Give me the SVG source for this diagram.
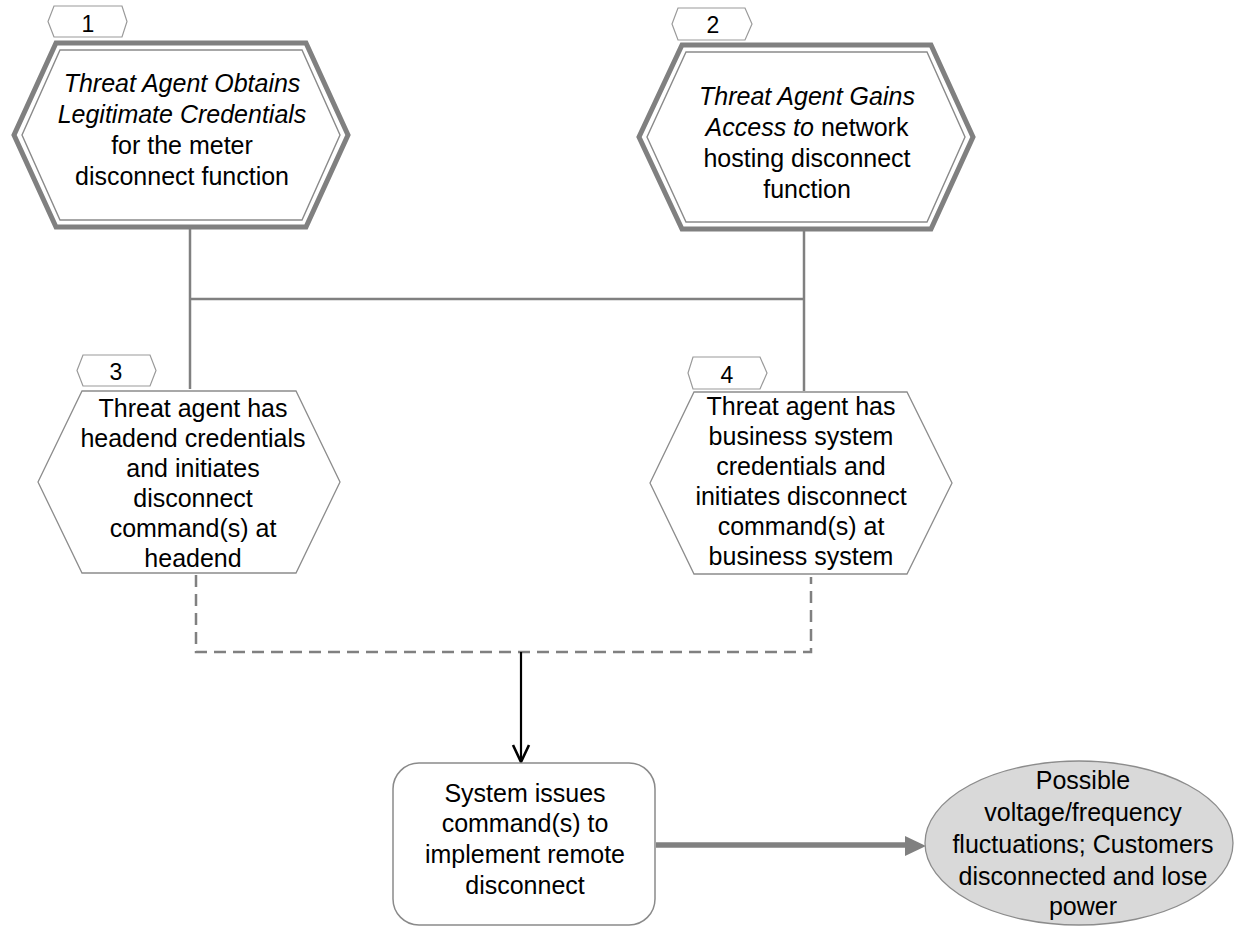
<svg xmlns="http://www.w3.org/2000/svg" width="1238" height="928" viewBox="0 0 1238 928">
<style>
text{font-family:"Liberation Sans",Arial,sans-serif;font-size:25px;fill:#000;text-anchor:middle}
.tabt{font-size:23px}
.it{font-style:italic}
.tab{fill:#fff;stroke:#9a9a9a;stroke-width:1.2}
.hexo{fill:#fff;stroke:#808080;stroke-width:5;stroke-linejoin:miter}
.hexi{fill:none;stroke:#8a8a8a;stroke-width:1.4}
.hexs{fill:#fff;stroke:#8c8c8c;stroke-width:1.3}
.conn{fill:none;stroke:#808080;stroke-width:2.5}
.dash{fill:none;stroke:#808080;stroke-width:2.5;stroke-dasharray:12 7}
</style>
<g id="connectors">
<path class="conn" d="M190,229 V389"/>
<path class="conn" d="M804,231 V391"/>
<path class="conn" d="M190,299 H804"/>
<path class="dash" d="M196,575 V652 H811 V577"/>
<path d="M521,652 V760" fill="none" stroke="#000" stroke-width="2.2"/>
<path d="M513,745 L521,762 L529,745" fill="none" stroke="#000" stroke-width="2.6"/>
<path d="M656,845 H907" fill="none" stroke="#808080" stroke-width="5.5"/>
<polygon points="905,836 926,846 905,856" fill="#808080"/>
</g>
<g id="node1">
<polygon class="tab" points="54,6 122,6 127,21.5 122,37 54,37 48,21.5"/>
<text class="tabt" x="88" y="31.5">1</text>
<polygon class="hexo" points="56,43 306,43 348,135 306,227 56,227 14,135"/>
<polygon class="hexi" points="60,50 302,50 340,135 302,220 60,220 22,135"/>
<text class="it" x="182" y="92">Threat Agent Obtains</text>
<text class="it" x="182" y="123">Legitimate Credentials</text>
<text x="182" y="154">for the meter</text>
<text x="182" y="185">disconnect function</text>
</g>
<g id="node2">
<polygon class="tab" points="678,8 745,8 752,24 745,40 678,40 672,24"/>
<text class="tabt" x="713" y="33">2</text>
<polygon class="hexo" points="682,45 931,45 973,137 931,229 682,229 639,137"/>
<polygon class="hexi" points="686,52 927,52 965,137 927,222 686,222 647,137"/>
<text class="it" x="807" y="105">Threat Agent Gains</text>
<text x="807" y="136"><tspan class="it">Access to</tspan> network</text>
<text x="807" y="167">hosting disconnect</text>
<text x="807" y="198">function</text>
</g>
<g id="node3">
<polygon class="tab" points="83,355 150,355 156,370.5 150,386 83,386 77,370.5"/>
<text class="tabt" x="116" y="380">3</text>
<polygon class="hexs" points="82,391 296,391 340,482 296,573 82,573 38,482"/>
<text x="193" y="417">Threat agent has</text>
<text x="193" y="447">headend credentials</text>
<text x="193" y="477">and initiates</text>
<text x="193" y="507">disconnect</text>
<text x="193" y="537">command(s) at</text>
<text x="193" y="567">headend</text>
</g>
<g id="node4">
<polygon class="tab" points="693,357 760,357 767,373 760,389 693,389 688,373"/>
<text class="tabt" x="727" y="383">4</text>
<polygon class="hexs" points="694,392 907,392 952,483 907,574 694,574 650,483"/>
<text x="801" y="415">Threat agent has</text>
<text x="801" y="445">business system</text>
<text x="801" y="475">credentials and</text>
<text x="801" y="505">initiates disconnect</text>
<text x="801" y="535">command(s) at</text>
<text x="801" y="565">business system</text>
</g>
<g id="node5">
<rect x="393" y="763" width="262" height="162" rx="26" ry="26" fill="#fff" stroke="#8a8a8a" stroke-width="1.5"/>
<text x="525" y="802">System issues</text>
<text x="525" y="832">command(s) to</text>
<text x="525" y="863">implement remote</text>
<text x="525" y="894">disconnect</text>
</g>
<g id="node6">
<ellipse cx="1079" cy="843" rx="154" ry="82" fill="#d9d9d9" stroke="#8c8c8c" stroke-width="1.3"/>
<text x="1083" y="789">Possible</text>
<text x="1083" y="821">voltage/frequency</text>
<text x="1083" y="853">fluctuations; Customers</text>
<text x="1083" y="885">disconnected and lose</text>
<text x="1083" y="915">power</text>
</g>
</svg>
